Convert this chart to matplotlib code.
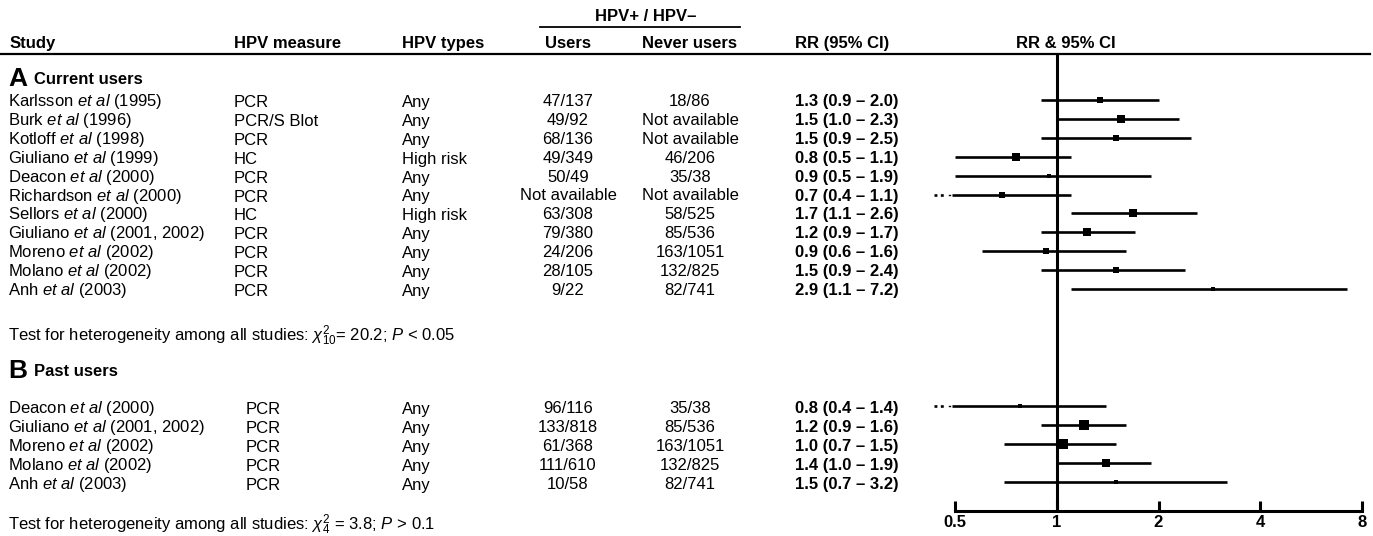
import numpy as np
import matplotlib
matplotlib.use('Agg')
import matplotlib.pyplot as plt

# data
cur_study = ['Karlsson', 'Burk', 'Kotloff', 'Giuliano', 'Deacon', 'Richardson',
             'Sellors', 'Giuliano', 'Moreno', 'Molano', 'Anh']
cur_year = ['1995', '1996', '1998', '1999', '2000', '2000', '2000',
            '2001, 2002', '2002', '2002', '2003']
cur_measure = ['PCR', 'PCR/S Blot', 'PCR', 'HC', 'PCR', 'PCR', 'HC', 'PCR', 'PCR', 'PCR', 'PCR']
cur_types = ['Any', 'Any', 'Any', 'High risk', 'Any', 'Any', 'High risk', 'Any', 'Any', 'Any', 'Any']
cur_users = ['47/137', '49/92', '68/136', '49/349', '50/49', 'Not available',
             '63/308', '79/380', '24/206', '28/105', '9/22']
cur_never = ['18/86', 'Not available', 'Not available', '46/206', '35/38', 'Not available',
             '58/525', '85/536', '163/1051', '132/825', '82/741']
cur_rr = [1.3, 1.5, 1.5, 0.8, 0.9, 0.7, 1.7, 1.2, 0.9, 1.5, 2.9]
cur_lo = [0.9, 1.0, 0.9, 0.5, 0.5, 0.4, 1.1, 0.9, 0.6, 0.9, 1.1]
cur_hi = [2.0, 2.3, 2.5, 1.1, 1.9, 1.1, 2.6, 1.7, 1.6, 2.4, 7.2]
# point positions as drawn (unrounded) and box sizes (study weight)
cur_pt = [1.34, 1.55, 1.5, 0.76, 0.95, 0.69, 1.68, 1.23, 0.93, 1.5, 2.9]
cur_w = [7, 8, 6, 8, 4.6, 6.5, 8, 8.5, 6, 7, 4.5]

past_study = ['Deacon', 'Giuliano', 'Moreno', 'Molano', 'Anh']
past_year = ['2000', '2001, 2002', '2002', '2002', '2003']
past_measure = ['PCR', 'PCR', 'PCR', 'PCR', 'PCR']
past_types = ['Any', 'Any', 'Any', 'Any', 'Any']
past_users = ['96/116', '133/818', '61/368', '111/610', '10/58']
past_never = ['35/38', '85/536', '163/1051', '132/825', '82/741']
past_rr = [0.8, 1.2, 1.0, 1.4, 1.5]
past_lo = [0.4, 0.9, 0.7, 1.0, 0.7]
past_hi = [1.4, 1.6, 1.5, 1.9, 3.2]
past_pt = [0.78, 1.2, 1.04, 1.4, 1.5]
past_w = [4.8, 9.5, 10, 9, 4.8]

ticks = [0.5, 1, 2, 4, 8]

body = 'Liberation Sans'
fs = 12
plt.rcParams['font.family'] = [body, 'DejaVu Sans']
plt.rcParams['mathtext.fontset'] = 'custom'
plt.rcParams['mathtext.rm'] = body
plt.rcParams['mathtext.it'] = body + ':italic'

W, H = 1373, 536
fig = plt.figure(figsize=(W / 100, H / 100), dpi=100)

# text layer in pixel coordinates
tx = fig.add_axes([0, 0, 1, 1])
tx.set_xlim(0, W)
tx.set_ylim(H, 0)
tx.axis('off')

col_study, col_meas, col_type, col_users, col_never, col_rr = 8, 234, 402, 568, 690, 795
hdr_y = 42
step = 18.9
cur_y0, past_y0 = 100, 407
bl = 6  # offset from row centre to text baseline

hb = dict(fontsize=fs, fontweight='bold', va='baseline')
tx.text(col_study + 2, hdr_y + bl, 'Study', ha='left', **hb)
tx.text(col_meas, hdr_y + bl, 'HPV measure', ha='left', **hb)
tx.text(col_type, hdr_y + bl, 'HPV types', ha='left', **hb)
tx.text(col_users, hdr_y + bl, 'Users', ha='center', **hb)
tx.text(col_never, hdr_y + bl, 'Never users', ha='center', **hb)
tx.text(842, hdr_y + bl, 'RR (95% CI)', ha='center', **hb)
tx.text(1066, hdr_y + bl, 'RR & 95% CI', ha='center', **hb)
tx.text(646, 15 + bl, 'HPV+ / HPV\u2013', ha='center', **hb)
tx.plot([540, 740], [27, 27], color='black', lw=1.3)
tx.plot([0, 1370], [53.5, 53.5], color='black', lw=1.6)


def section(letter, title, y):
    tx.text(col_study, y + 8, letter, ha='left', va='baseline', fontsize=19,
            fontweight='bold')
    tx.text(col_study + 26, y + 6, title, ha='left', va='baseline', fontsize=fs,
            fontweight='bold')


def rows(study, year, meas, types, users, never, rr, lo, hi, y0, meas_dx=0):
    for i in range(len(study)):
        y = y0 + i * step + bl
        tx.text(col_study, y, study[i] + ' $\\it{et\\ al}$ (' + year[i] + ')',
                ha='left', va='baseline', fontsize=fs)
        tx.text(col_meas + meas_dx, y + 1, meas[i], ha='left', va='baseline', fontsize=fs)
        tx.text(col_type, y + 1, types[i], ha='left', va='baseline', fontsize=fs)
        tx.text(col_users, y, users[i], ha='center', va='baseline', fontsize=fs)
        tx.text(col_never, y, never[i], ha='center', va='baseline', fontsize=fs)
        tx.text(col_rr, y, '%.1f (%.1f \u2013 %.1f)' % (rr[i], lo[i], hi[i]),
                ha='left', va='baseline', fontsize=fs, fontweight='bold')


section('A', 'Current users', 78)
rows(cur_study, cur_year, cur_measure, cur_types, cur_users, cur_never,
     cur_rr, cur_lo, cur_hi, cur_y0)
tx.text(col_study, 335 + bl, r'Test for heterogeneity among all studies: $\chi^2_{10}$= 20.2; $\it{P}$ < 0.05',
        ha='left', va='baseline', fontsize=fs)

section('B', 'Past users', 370)
rows(past_study, past_year, past_measure, past_types, past_users, past_never,
     past_rr, past_lo, past_hi, past_y0, meas_dx=12)
tx.text(col_study, 524 + bl, r'Test for heterogeneity among all studies: $\chi^2_{4}$ = 3.8; $\it{P}$ > 0.1',
        ha='left', va='baseline', fontsize=fs)

# forest plot
x0, x1, ybot, ytop = 955, 1362, 511, 53.5
ax = fig.add_axes([x0 / W, (H - ybot) / H, (x1 - x0) / W, (ybot - ytop) / H])
ax.set_xscale('log', base=2)
ax.set_xlim(0.5, 8)
ax.set_ylim(ybot, ytop)
ax.patch.set_visible(False)
for s in ['top', 'left', 'right']:
    ax.spines[s].set_visible(False)
ax.spines['bottom'].set_linewidth(2.2)
ax.spines['bottom'].set_capstyle('projecting')
ax.set_yticks([])
ax.set_xticks(ticks)
ax.set_xticklabels(['0.5', '1', '2', '4', '8'])
ax.xaxis.set_minor_locator(matplotlib.ticker.NullLocator())
ax.tick_params(axis='x', direction='in', length=7, width=2.2, pad=3, labelsize=12)
for lab in ax.get_xticklabels():
    lab.set_fontweight('bold')
ax.axvline(1, color='black', lw=2.2)

clip = 0.49


def forest(pt, lo, hi, w, y0):
    for i in range(len(pt)):
        y = y0 + i * step
        ax.plot([max(lo[i], clip), hi[i]], [y, y], color='black', lw=1.9,
                solid_capstyle='butt', clip_on=False)
        if lo[i] < clip:
            # dotted continuation beyond the axis limit
            ax.plot([0.432, 0.465], [y, y], color='black', lw=1.9,
                    linestyle=(0, (1.1, 1.3)), clip_on=False)
            ax.plot([0.479, 0.482], [y, y], color='black', lw=1.0, clip_on=False)
        ax.plot(pt[i], y, marker='s', color='black', markersize=w[i] / 1.39,
                markeredgewidth=0, clip_on=False)


forest(cur_pt, cur_lo, cur_hi, cur_w, cur_y0)
forest(past_pt, past_lo, past_hi, past_w, past_y0 - 1)

fig.savefig('out.png', dpi=100)
